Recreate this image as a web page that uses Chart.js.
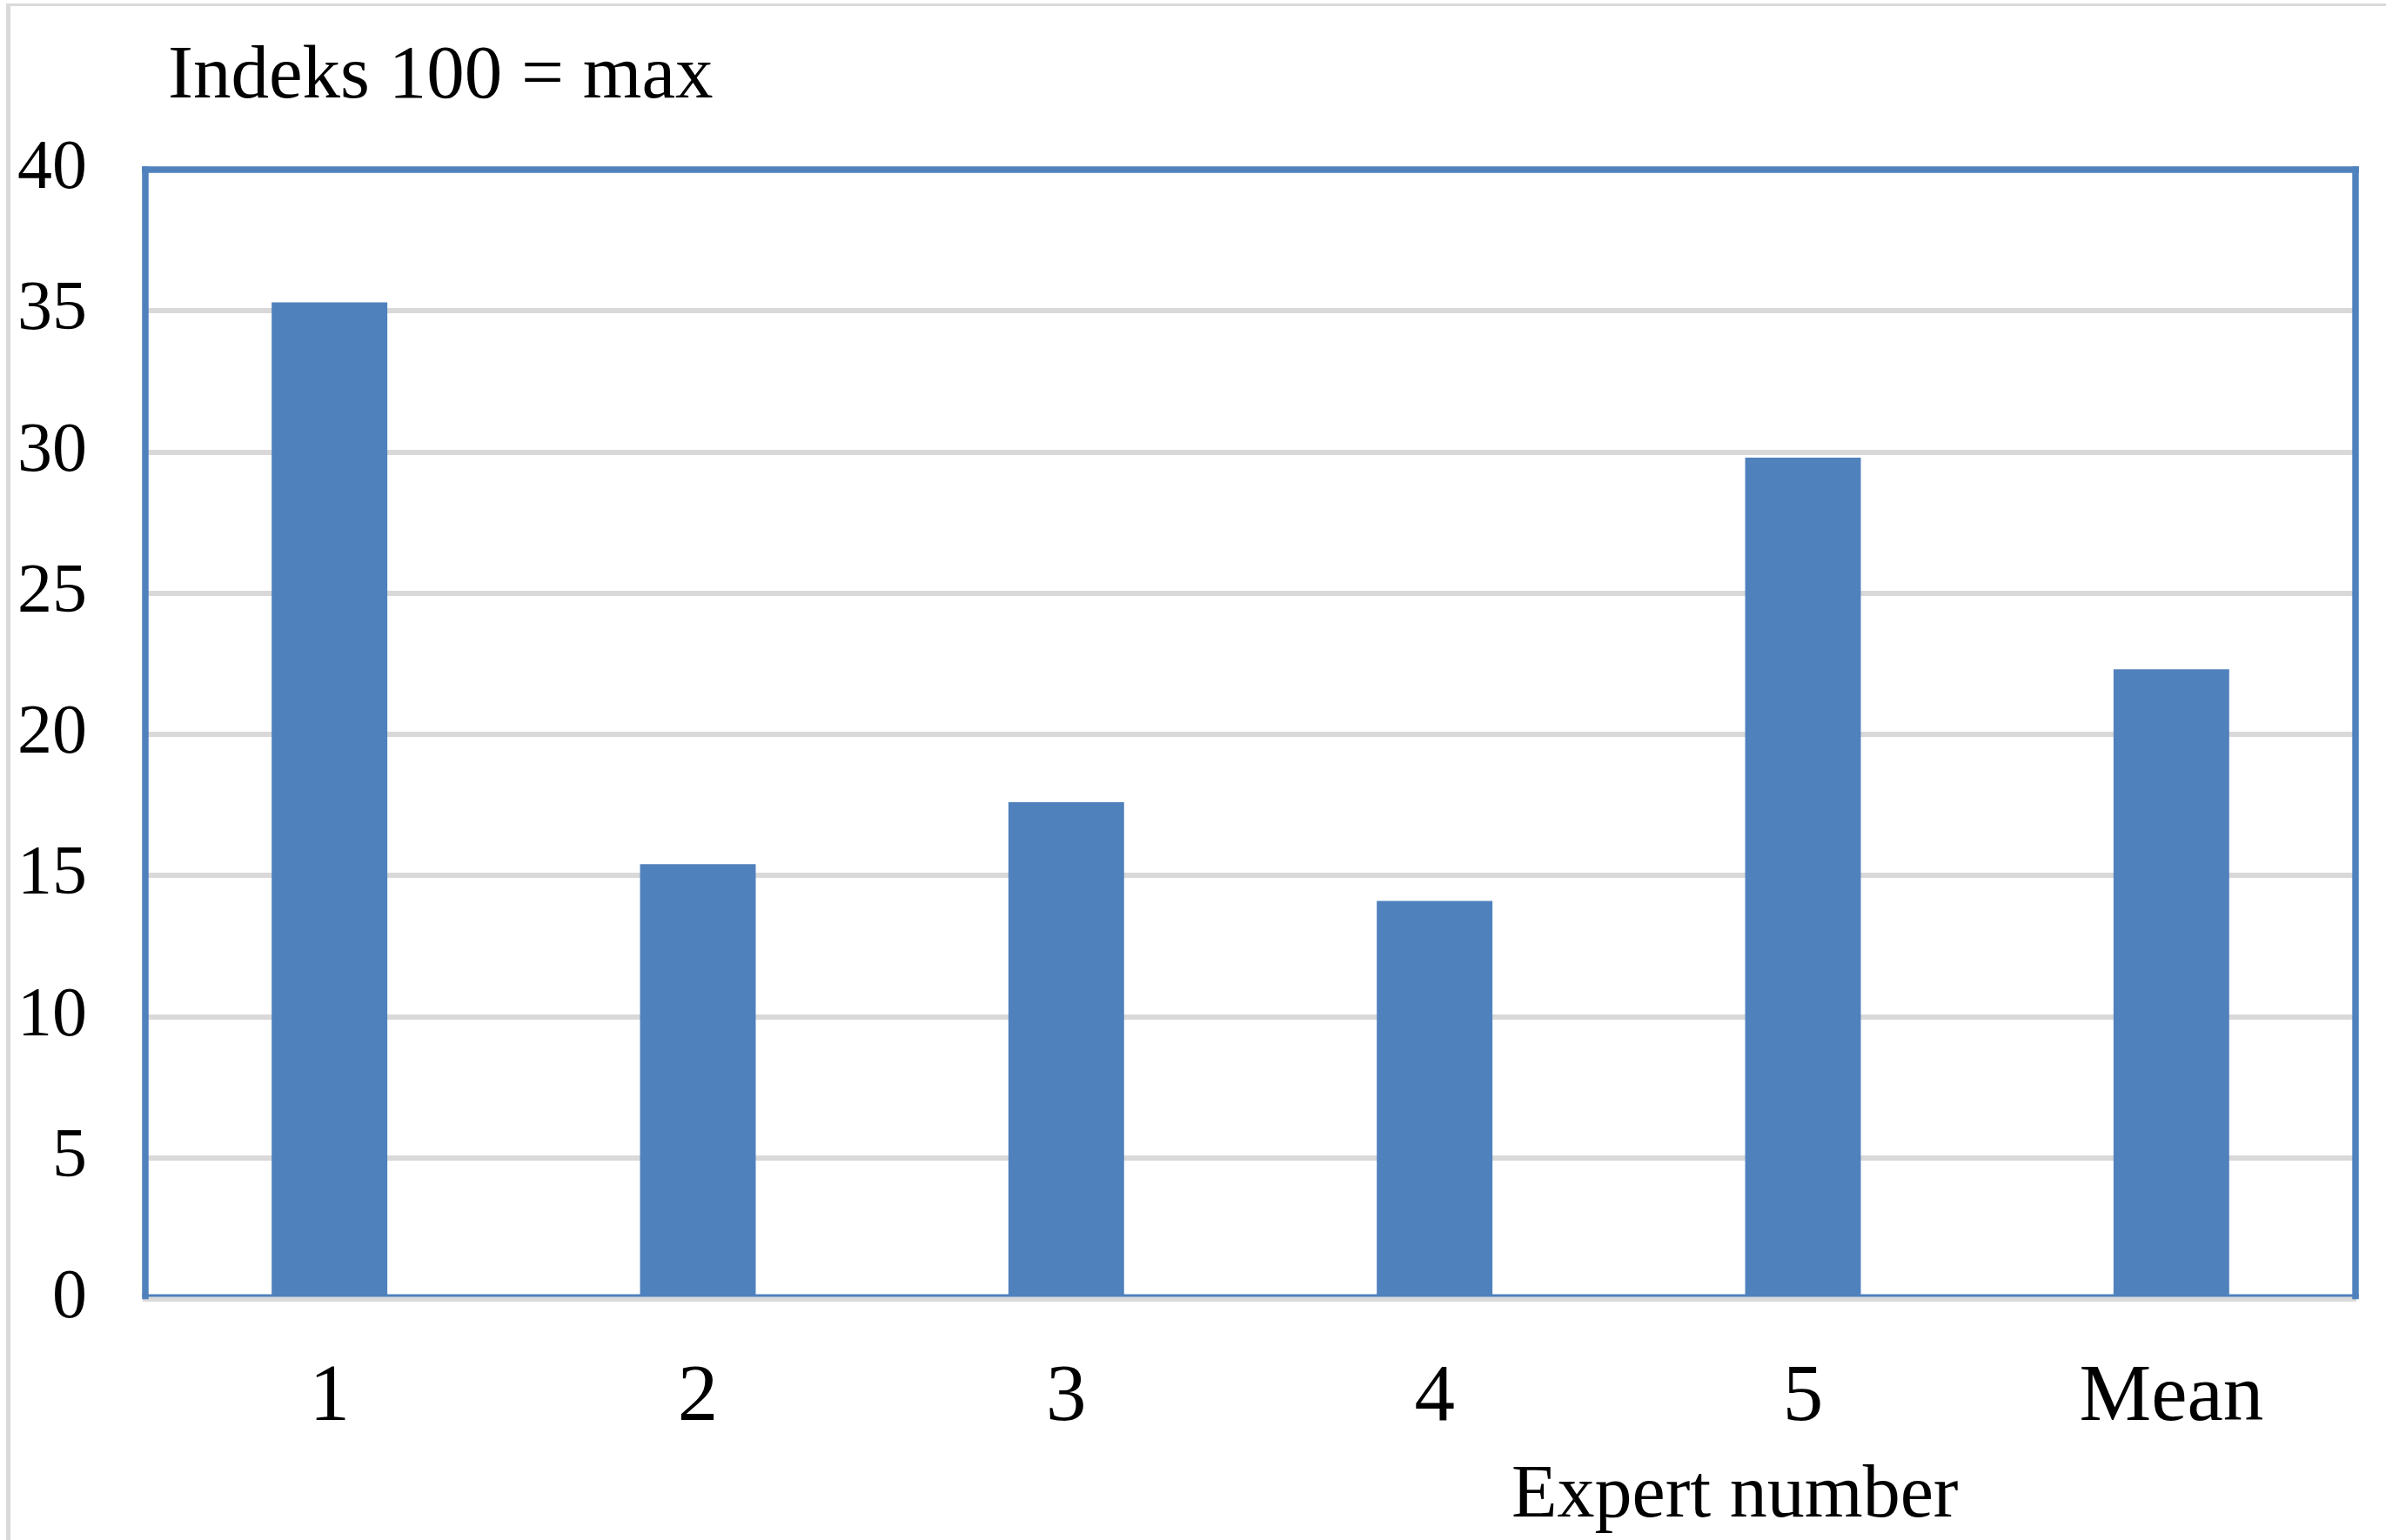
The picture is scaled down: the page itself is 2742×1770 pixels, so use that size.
<!DOCTYPE html>
<html>
<head>
<meta charset="utf-8">
<title>Indeks 100 = max</title>
<script src="https://cdn.jsdelivr.net/npm/chart.js@4.4.1/dist/chart.umd.min.js"></script>
<style>
  html, body { margin: 0; padding: 0; background: #fff; }
  #wrap { position: relative; width: 2742px; height: 1770px; }
</style>
</head>
<body>
<div id="wrap"><canvas id="chart"></canvas></div>
<script>
  // values
  const experts = ['1', '2', '3', '4', '5', 'Mean'];
  const scores = [35.3, 15.4, 17.6, 14.1, 29.8, 22.3];
  const yTicks = [0, 5, 10, 15, 20, 25, 30, 35, 40];
  const titleText = 'Indeks 100 = max';
  const xTitleText = 'Expert number';

  const BLUE = '#4f81bd';
  const GRID = '#d9d9d9';
  const SERIF = '"Liberation Serif", "Times New Roman", Times, serif';

  // plot box of the reference, in page pixels
  const PLOT = { left: 167, top: 195, right: 2707, bottom: 1493 };

  // outer light frame (cropped at right/bottom), blue plot frame, free texts
  const decor = {
    id: 'decor',
    beforeDraw(chart) {
      const ctx = chart.ctx;
      ctx.save();
      ctx.fillStyle = GRID;
      ctx.fillRect(7, 4, chart.width - 7, 3);
      ctx.fillRect(7, 4, 5, chart.height - 4);
      ctx.restore();
    },
    afterDatasetsDraw(chart) {
      const a = chart.chartArea;
      const ctx = chart.ctx;
      const w = 7.5;
      ctx.save();
      ctx.fillStyle = BLUE;
      ctx.fillRect(a.left - w / 2, a.top - w / 2, a.right - a.left + w, w);
      ctx.fillRect(a.left - w / 2, a.top - w / 2, w, a.bottom - a.top + 4);
      ctx.fillRect(a.right - w / 2, a.top - w / 2, w, a.bottom - a.top + 4);
      ctx.fillRect(a.left - w / 2, a.bottom - 5.5, a.right - a.left + w, 3);
      ctx.restore();
    },
    afterDraw(chart) {
      const ctx = chart.ctx;
      ctx.save();
      ctx.fillStyle = '#000';
      ctx.textAlign = 'left';
      ctx.textBaseline = 'alphabetic';
      ctx.font = '87px ' + SERIF;
      ctx.fillText(titleText, 193, 112);
      ctx.font = '86px ' + SERIF;
      ctx.fillText(xTitleText, 1737, 1743);
      ctx.restore();
    },
  };

  new Chart(document.getElementById('chart').getContext('2d'), {
    type: 'bar',
    data: {
      labels: experts,
      datasets: [{
        data: scores,
        backgroundColor: BLUE,
        borderWidth: 0,
        categoryPercentage: 1,
        barPercentage: 0.314,
      }],
    },
    options: {
      responsive: true,
      maintainAspectRatio: false,
      animation: false,
      events: [],
      layout: { padding: { top: PLOT.top, right: 2742 - PLOT.right, left: 0, bottom: 0 } },
      plugins: { legend: { display: false }, tooltip: { enabled: false }, title: { display: false } },
      scales: {
        x: {
          z: 1,
          grid: { display: false, drawTicks: false },
          border: { display: true, color: GRID, width: 6 },
          ticks: { color: '#000', font: { family: SERIF, size: 93 }, padding: 59, maxRotation: 0 },
          afterFit: (s) => { s.height = 1770 - PLOT.bottom; },
        },
        y: {
          min: 0, max: 40,
          afterBuildTicks: (s) => { s.ticks = yTicks.map(v => ({ value: v })); },
          grid: { color: GRID, lineWidth: 6, drawTicks: false },
          border: { display: false },
          ticks: { color: '#000', font: { family: SERIF, size: 80 }, padding: 67 },
          afterFit: (s) => { s.width = PLOT.left; },
        },
      },
    },
    plugins: [decor],
  });
</script>
</body>
</html>
